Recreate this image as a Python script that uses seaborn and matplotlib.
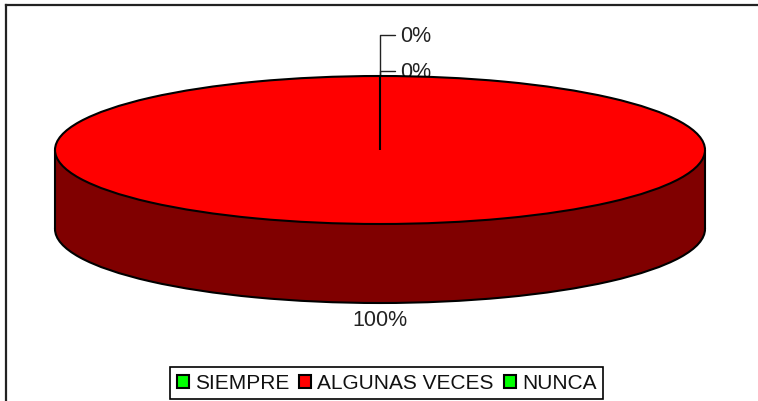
import matplotlib.pyplot as plt
import seaborn as sns

# Chart values
categories = ["SIEMPRE", "ALGUNAS VECES", "NUNCA"]
percentages = [0, 100, 0]
top_colors = ["#00FF00", "#FF0000", "#00FF00"]
side_color = "#800000"

sns.set_theme(style="white")
plt.rcParams['font.family'] = ['Liberation Sans', 'DejaVu Sans']

W, H = 758, 402
fig = plt.figure(figsize=(W / 100, H / 100), dpi=100)
ax = fig.add_axes([6 / W, 0, (W - 6) / W, (H - 6) / H])

# pie is stretched on non equal axes: 1 x unit = 325 px, 1 y unit = 74 px
cx, cy, rx, ry = 380, 151, 325, 74
depth = 79 / ry

# Cylinder side: lower pie plus a band joining it to the top
ax.pie(percentages, colors=[side_color] * 3, startangle=90, center=(0, -depth),
       wedgeprops={"edgecolor": "black", "linewidth": 1.5, "zorder": 1})
ax.fill_between([-1, 1], -depth, 0, facecolor=side_color, edgecolor="none", zorder=1.5)
ax.vlines([-1, 1], -depth, 0, color="black", linewidth=1.5, zorder=1.6)

# Top face, the zero wedges draw the radial line up from the centre
wedges, _ = ax.pie(percentages, colors=top_colors, startangle=90,
                   wedgeprops={"edgecolor": "black", "linewidth": 1.5, "zorder": 3})

ax.set_aspect("auto")
ax.set_frame_on(True)
ax.set_xlim((6 - cx) / rx, (W - cx) / rx)
ax.set_ylim((cy - H) / ry, (cy - 6) / ry)

# Labels with leader lines for the two empty slices
for value, label_y in zip([percentages[0], percentages[2]], [36, 72]):
    ax.annotate(f"{value}%", xy=(0, 0),
                xytext=((400 - cx) / rx, (cy - label_y) / ry),
                ha="left", va="center", fontsize=15.5, color="#222222", zorder=2,
                arrowprops=dict(arrowstyle="-", color="#222222", linewidth=1,
                                shrinkA=1, shrinkB=0,
                                connectionstyle="angle,angleA=0,angleB=90,rad=0"))
ax.text(0, (cy - 321) / ry, f"{percentages[1]}%", ha="center", va="center",
        fontsize=15.5, color="#222222")

legend = ax.legend(wedges, categories, ncol=3, fontsize=15, loc="center",
                   bbox_to_anchor=(((386.5 - cx) / rx - (6 - cx) / rx) / ((W - 6) / rx),
                                   (H - 384) / (H - 6)),
                   frameon=True, fancybox=False, framealpha=1, edgecolor="black",
                   handlelength=0.58, handleheight=0.58, handletextpad=0.29,
                   columnspacing=0.48, borderpad=0.3, borderaxespad=0)
legend.get_frame().set_linewidth(1.2)
for text in legend.get_texts():
    text.set_color("#111111")

# Only the top and left border of the chart area are visible
sns.despine(ax=ax, top=False, right=True, bottom=True)
for side in ["top", "left"]:
    ax.spines[side].set_color("#222222")
    ax.spines[side].set_linewidth(1.6)

plt.savefig("out.png", dpi=100)
